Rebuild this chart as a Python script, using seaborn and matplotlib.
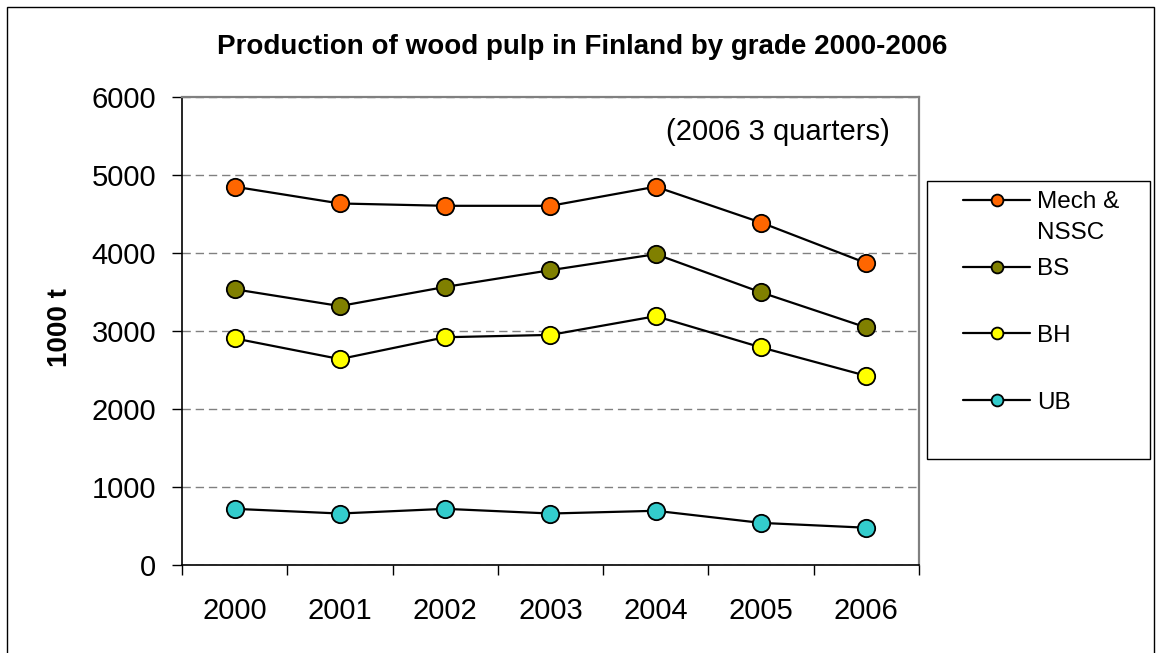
import matplotlib
matplotlib.use("Agg")
import matplotlib.pyplot as plt
from matplotlib.patches import Rectangle
from matplotlib.legend_handler import HandlerLine2D
import numpy as np
import seaborn as sns
import pandas as pd

# ---- data ----
years = ["2000", "2001", "2002", "2003", "2004", "2005", "2006"]
series_names = ["Mech &\nNSSC", "BS", "BH", "UB"]
mech_nssc = [4850, 4635, 4605, 4605, 4850, 4390, 3870]
bs = [3535, 3320, 3565, 3780, 3985, 3495, 3045]
bh = [2905, 2640, 2920, 2950, 3190, 2790, 2425]
ub = [720, 660, 720, 660, 695, 540, 478]
series_values = [mech_nssc, bs, bh, ub]
series_colors = ["#FF6600", "#808000", "#FFFF00", "#33CCCC"]
y_ticks = [0, 1000, 2000, 3000, 4000, 5000, 6000]

title_text = "Production of wood pulp in Finland by grade 2000-2006"
ylabel_text = "1000 t"
note_text = "(2006 3 quarters)"

# ---- style ----
sns.set_style("white")
plt.rcParams["font.family"] = ["Liberation Sans", "DejaVu Sans"]
for k in ["text.color", "axes.labelcolor", "xtick.color", "ytick.color"]:
    plt.rcParams[k] = "black"

W, H = 1157, 653
fig = plt.figure(figsize=(W / 100, H / 100), dpi=100)
fig.patch.set_facecolor("white")

def fx(px):
    return px / W

def fy(py):
    return 1 - py / H

ax_l, ax_r, ax_t, ax_b = 182, 919, 97, 565
ax = fig.add_axes([fx(ax_l), fy(ax_b), fx(ax_r - ax_l), (ax_b - ax_t) / H])

rows = []
for name, vals in zip(series_names, series_values):
    for yr, v in zip(years, vals):
        rows.append({"year": yr, "value": v, "grade": name})
df = pd.DataFrame(rows)

for name, col in zip(series_names, series_colors):
    sub = df[df["grade"] == name]
    sns.lineplot(data=sub, x="year", y="value", ax=ax, color="black",
                 linewidth=1.6, marker="o", markersize=12.5,
                 markerfacecolor=col, markeredgecolor="black",
                 markeredgewidth=1.3, label=name, zorder=3)

ax.set_xlim(-0.5, len(years) - 0.5)
ax.set_ylim(0, 6000)
ax.set_yticks(y_ticks)
ax.set_yticklabels([str(t) for t in y_ticks])
ax.set_xticks(range(len(years)))
ax.set_xticklabels(years)
ax.set_xticks([i - 0.5 for i in range(len(years) + 1)], minor=True)

ax.tick_params(axis="x", which="major", length=0, pad=23, labelsize=21,
               colors="black")
ax.tick_params(axis="x", which="minor", length=7.2, width=1.0,
               direction="out", color="black", bottom=True)
ax.tick_params(axis="y", which="major", length=7.2, width=1.0,
               direction="out", pad=11.5, labelsize=21, colors="black",
               left=True)

ax.set_xlabel("")
ax.set_ylabel(ylabel_text, fontsize=20, fontweight="bold")
ax.yaxis.set_label_coords((73 - ax_l) / (ax_r - ax_l), 0.508)

ax.yaxis.grid(True, color="#808080", linewidth=1.0, linestyle=(0, (6, 3.5)))
ax.xaxis.grid(False)
ax.set_axisbelow(True)

for s in ["left", "bottom"]:
    ax.spines[s].set_color("black")
    ax.spines[s].set_linewidth(1.2)
for s in ["top", "right"]:
    ax.spines[s].set_color("#808080")
    ax.spines[s].set_linewidth(1.6)

ax.text((890 - ax_l) / (ax_r - ax_l), (ax_b - 140) / (ax_b - ax_t), note_text,
        transform=ax.transAxes, ha="right", va="baseline", fontsize=21)

fig.text(fx(582.5), fy(54), title_text, ha="center", va="baseline",
         fontsize=20, fontweight="bold")


# ---- legend (Excel-like: fixed row pitch, two-line label overflows) ----
class RaisedLineHandler(HandlerLine2D):
    def __init__(self, offset, **kw):
        super().__init__(**kw)
        self._off = offset

    def create_artists(self, legend, orig_handle, xdescent, ydescent,
                       width, height, fontsize, trans):
        arts = super().create_artists(legend, orig_handle, xdescent, ydescent,
                                      width, height, fontsize, trans)
        for a in arts:
            a.set_ydata(np.asarray(a.get_ydata(), dtype=float) + self._off)
        return arts


handles, labels = ax.get_legend_handles_labels()
if ax.get_legend() is not None:
    ax.get_legend().remove()

leg_fs = 17.5
leg_kw = dict(loc="upper left", frameon=False, borderpad=0, borderaxespad=0,
              handlelength=2.76, handletextpad=0.29, fontsize=leg_fs,
              markerscale=0.68)
leg1 = fig.legend(handles[:1], labels[:1], bbox_to_anchor=(fx(963), fy(191)),
                  handler_map={handles[0]: RaisedLineHandler(12.5)}, **leg_kw)
leg1.get_texts()[0].set_linespacing(1.55)
leg2 = fig.legend(handles[1:], labels[1:], bbox_to_anchor=(fx(963), fy(258)),
                  labelspacing=1.85, **leg_kw)

fig.patches.append(Rectangle((fx(927), fy(459)), fx(1150 - 927), (459 - 181) / H,
                             transform=fig.transFigure, fill=False,
                             edgecolor="black", linewidth=1.0))
# outer chart border
fig.patches.append(Rectangle((fx(7), -0.02), fx(1154 - 7), 1.02 - 7 / H,
                             transform=fig.transFigure, fill=False,
                             edgecolor="black", linewidth=1.0))

fig.savefig("out.png", dpi=100)
